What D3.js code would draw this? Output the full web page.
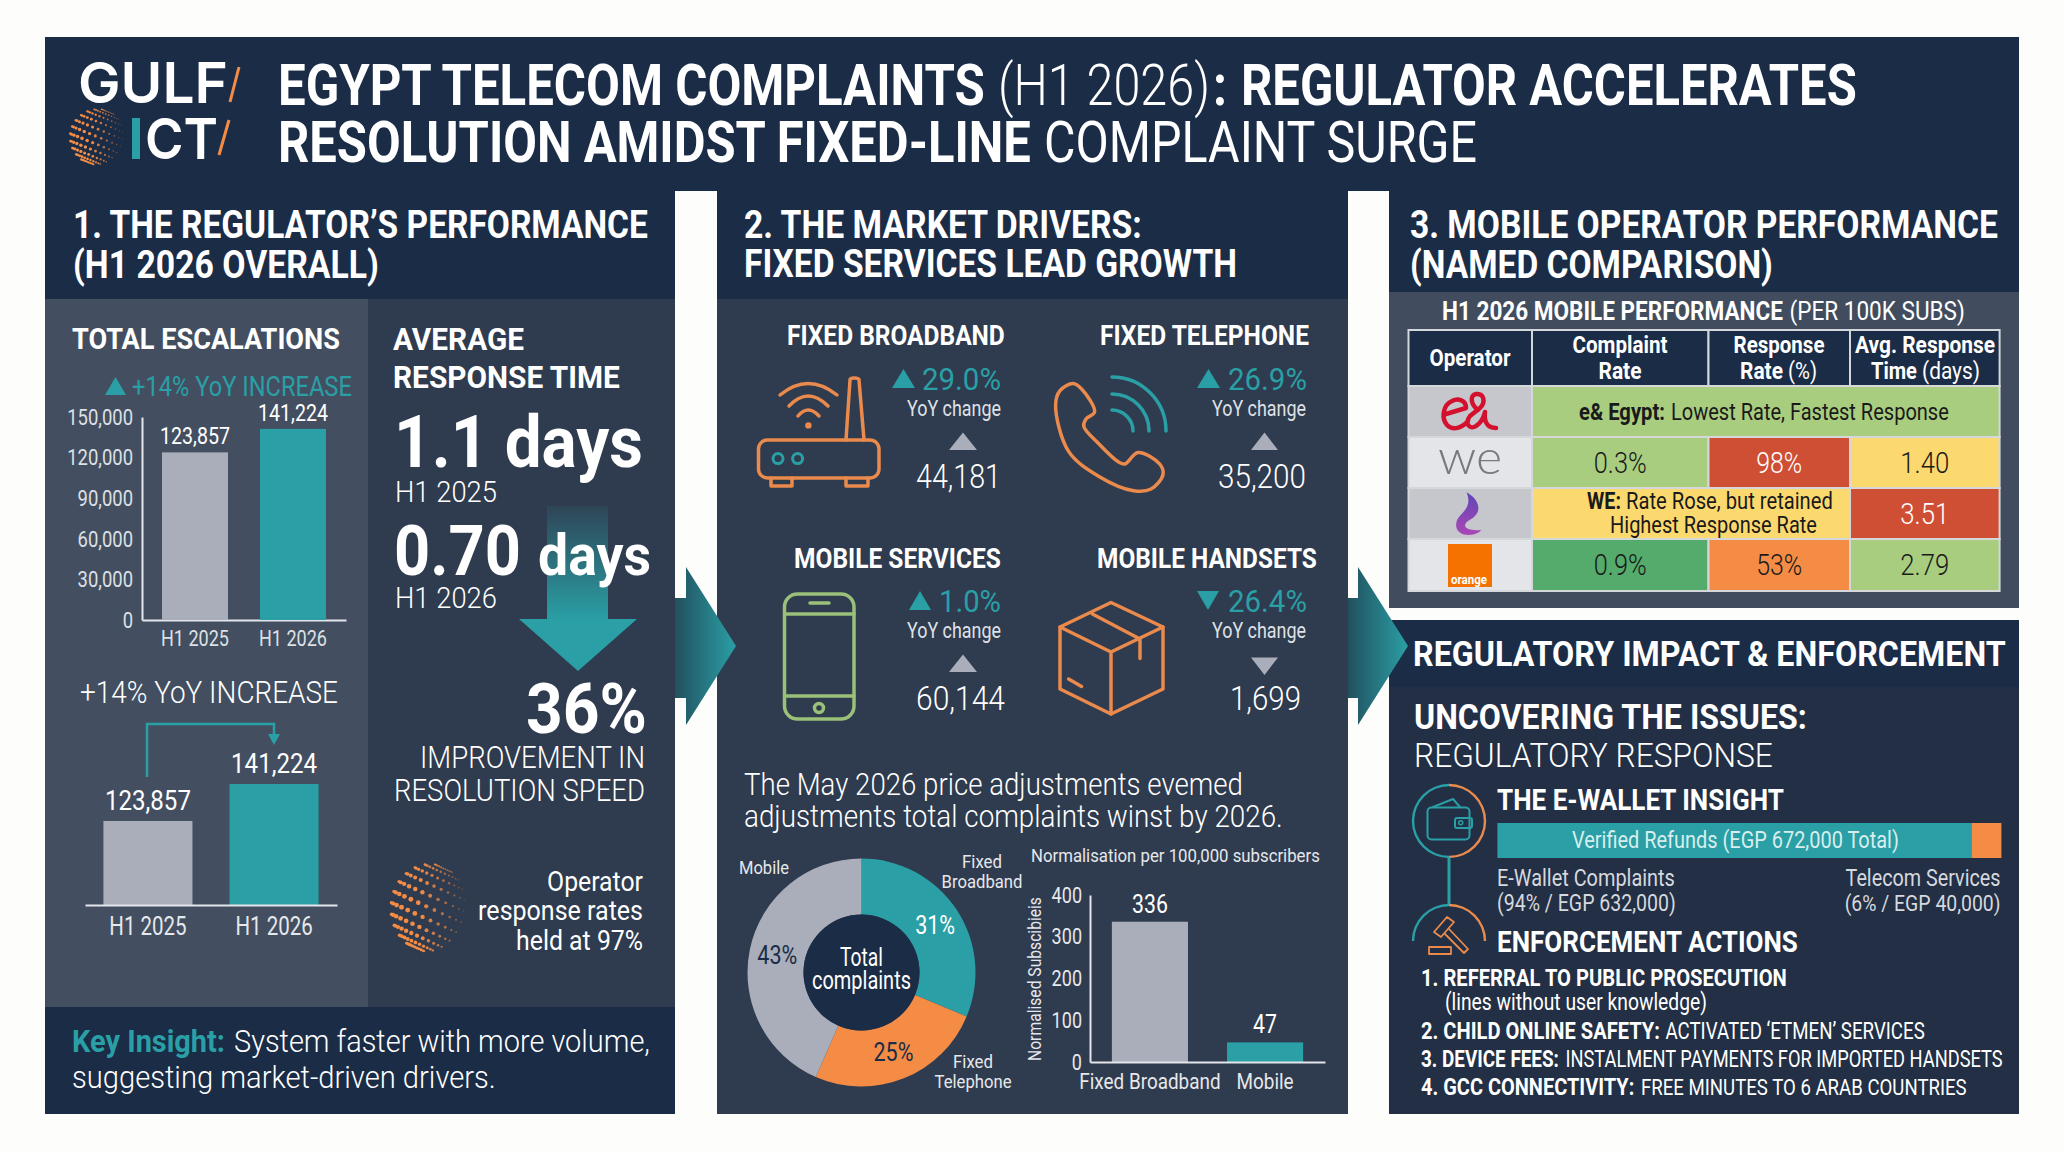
<!DOCTYPE html>
<html>
<head>
<meta charset="utf-8">
<title>Egypt Telecom Complaints H1 2026</title>
<script src="https://cdn.jsdelivr.net/npm/d3@7"></script>
<style>
  html, body { margin: 0; padding: 0; background: #fdfefc; }
  svg { display: block; font-family: Roboto, "Liberation Sans Narrow", sans-serif; }
</style>
</head>
<body>
<svg id="chart" width="2064" height="1152"></svg>
<script>
      // data ====================================================
      var periods       = ["H1 2025", "H1 2026"];
      var escalations   = [123857, 141224];
      var escalationTicks = [0, 30000, 60000, 90000, 120000, 150000];

      var driverNames   = ["FIXED BROADBAND", "FIXED TELEPHONE", "MOBILE SERVICES", "MOBILE HANDSETS"];
      var driverChange  = ["29.0%", "26.9%", "1.0%", "26.4%"];
      var driverRising  = [true, true, true, false];
      var driverCounts  = ["44,181", "35,200", "60,144", "1,699"];

      var shareNames    = ["Fixed Broadband", "Fixed Telephone", "Mobile"];
      var shareValues   = [31, 25, 43];

      var normalNames   = ["Fixed Broadband", "Mobile"];
      var normalValues  = [336, 47];
      var normalTicks   = [0, 100, 200, 300, 400];

      var refundNames   = ["E-Wallet Complaints", "Telecom Services"];
      var refundValues  = [632000, 40000];

      var tableRowA     = ["0.3%", "98%", "1.40"];
      var tableRowB     = ["3.51"];
      var tableRowC     = ["0.9%", "53%", "2.79"];

      // colours
      var navy = "#1b2c47", slate = "#2f3b4e", slateLight = "#434f61", bottomBlue = "#222f45";
      var teal = "#2a9fa5", orange = "#f48c45", grey = "#a9aeba", green = "#a9cd7f";
      var yellow = "#fcd96f", red = "#cf4f35", darkGreen = "#54ab6b", lineCol = "#e3e6ea";

      var svg = d3.select("#chart");
      var squeeze = 0.82;

      // text helper, Roboto is squeezed to the width
      function label(g, str, x, y, size, o) {
        o = o || {};
        var weight = o.weight || 400;
        if (weight == 300 && size <= 27) weight = 400;
        var t = g.append("text")
          .attr("font-size", size).attr("font-weight", weight)
          .attr("fill", o.fill || "#ffffff").attr("text-anchor", o.anchor || "start")
          .text(str);
        if (o.family) t.attr("font-family", o.family);
        var sx = o.width ? o.width / t.node().getComputedTextLength() : squeeze;
        t.attr("transform", "translate(" + x + "," + y + ") scale(" + sx + ",1)");
        return t;
      }
      function rect(g, x1, y1, x2, y2, fill) {
        return g.append("rect").attr("x", x1).attr("y", y1).attr("width", x2 - x1).attr("height", y2 - y1).attr("fill", fill);
      }
      function tri(g, x1, x2, y1, y2, up, fill) {
        var xm = (x1 + x2) / 2;
        var pts = up ? [[x1, y2], [x2, y2], [xm, y1]] : [[x1, y1], [x2, y1], [xm, y2]];
        return g.append("polygon").attr("points", pts.join(" ")).attr("fill", fill);
      }
      function squeezeAxis(g, size, fill, sq) {
        sq = sq || squeeze;
        g.selectAll("text").attr("font-size", size).attr("font-family", "Roboto").attr("fill", fill)
          .each(function() {
            var s = d3.select(this);
            s.attr("x", (+s.attr("x") || 0) / sq).attr("transform", "scale(" + sq + ",1)");
          });
      }
      // dotted globe of the logo, tilted grid, dots fade to the right
      function globe(g, cx, cy, rx, ry) {
        var tilt = 22 * Math.PI / 180;
        d3.range(-75, 76, 15).forEach(function(lat) {
          d3.range(-90, 91, 13).forEach(function(lon) {
            var a = (lon - 20) * Math.PI / 180, b = lat * Math.PI / 180;
            if (Math.cos(a) < 0.02) return;
            var px = Math.sin(a) * Math.cos(b), py = Math.sin(b);
            var nx = px * Math.cos(tilt) - py * Math.sin(tilt), ny = px * Math.sin(tilt) + py * Math.cos(tilt);
            var depth = Math.sqrt(Math.max(0, 1 - nx * nx - ny * ny));
            var fade = (1 - nx) / 2;
            g.append("circle")
              .attr("cx", cx + rx * nx).attr("cy", cy + ry * ny)
              .attr("r", (0.5 + 1.5 * fade) * (0.5 + 0.5 * depth) * (rx / 24))
              .attr("fill", orange).attr("opacity", Math.min(1, 0.25 + 1.2 * fade));
          });
        });
      }

      // gradients
      var defs = svg.append("defs");
      function hGrad(id, x1, x2, c1, c2) {
        var gr = defs.append("linearGradient").attr("id", id).attr("gradientUnits", "userSpaceOnUse")
          .attr("x1", x1).attr("x2", x2).attr("y1", 0).attr("y2", 0);
        gr.append("stop").attr("offset", 0).attr("stop-color", c1);
        gr.append("stop").attr("offset", 1).attr("stop-color", c2);
      }
      hGrad("flow1", 675, 736, "#22505f", teal);
      hGrad("flow2", 1348, 1408, "#22505f", teal);
      var dropGrad = defs.append("linearGradient").attr("id", "drop").attr("x1", 0).attr("x2", 0).attr("y1", 0).attr("y2", 1);
      dropGrad.append("stop").attr("offset", 0).attr("stop-color", teal).attr("stop-opacity", 0.1);
      dropGrad.append("stop").attr("offset", 1).attr("stop-color", teal);
      var purple = defs.append("linearGradient").attr("id", "purple").attr("x1", 0).attr("x2", 0).attr("y1", 0).attr("y2", 1);
      purple.append("stop").attr("offset", 0).attr("stop-color", "#5f45b5");
      purple.append("stop").attr("offset", 1).attr("stop-color", "#a948b5");

      // panels ==================================================
      rect(svg, 45, 37, 2019, 191, navy);
      rect(svg, 45, 191, 675, 299, navy);
      rect(svg, 45, 299, 368, 1007, slateLight);
      rect(svg, 368, 299, 675, 1007, slate);
      rect(svg, 45, 1007, 675, 1114, navy);
      rect(svg, 717, 191, 1348, 299, navy);
      rect(svg, 717, 299, 1348, 1114, slate);
      rect(svg, 1389, 191, 2019, 292, navy);
      rect(svg, 1389, 292, 2019, 608, "#414d5e");
      rect(svg, 1389, 620, 2019, 687, navy);
      rect(svg, 1389, 687, 2019, 1114, bottomBlue);

      // header ==================================================
      var head = svg.append("g");
      label(head, "GULF", 78, 103, 57, {weight: 600, width: 150, family: "Inter"});
      head.append("line").attr("x1", 230).attr("y1", 102).attr("x2", 239).attr("y2", 67).attr("stroke", orange).attr("stroke-width", 3);
      rect(head, 132, 118, 140, 159, teal);
      label(head, "CT", 145, 159, 57, {weight: 600, width: 73, family: "Inter"});
      head.append("line").attr("x1", 219).attr("y1", 155).attr("x2", 229).attr("y2", 120).attr("stroke", orange).attr("stroke-width", 3);
      globe(head, 98, 137, 28, 28);

      label(head, "EGYPT TELECOM COMPLAINTS", 278, 105, 58, {weight: 700, width: 707});
      label(head, "(H1 2026)", 998, 105, 58, {weight: 300, width: 212});
      label(head, ":", 1213, 105, 58, {weight: 700, width: 14});
      label(head, "REGULATOR ACCELERATES", 1241, 105, 58, {weight: 700, width: 616});
      label(head, "RESOLUTION AMIDST FIXED-LINE", 278, 162, 58, {weight: 700, width: 753});
      label(head, "COMPLAINT SURGE", 1044, 162, 58, {weight: 400, width: 433});

      label(head, "1. THE REGULATOR\u2019S PERFORMANCE", 73, 238, 38, {weight: 700, width: 575});
      label(head, "(H1 2026 OVERALL)", 73, 278, 38, {weight: 700, width: 306});
      label(head, "2. THE MARKET DRIVERS:", 744, 238, 38, {weight: 700, width: 398});
      label(head, "FIXED SERVICES LEAD GROWTH", 744, 277, 38, {weight: 700, width: 493});
      label(head, "3. MOBILE OPERATOR PERFORMANCE", 1410, 238, 38, {weight: 700, width: 588});
      label(head, "(NAMED COMPARISON)", 1410, 278, 38, {weight: 700, width: 363});

      // panel 1: total escalations ==============================
      var p1 = svg.append("g");
      label(p1, "TOTAL ESCALATIONS", 72, 349, 30, {weight: 700, width: 268});
      tri(p1, 105, 126, 377, 395, true, teal);
      label(p1, "+14% YoY INCREASE", 132, 396, 28, {weight: 400, fill: teal, width: 220});

      var xEsc = d3.scaleBand().domain(periods).range([142, 346]).paddingInner(0.3265).paddingOuter(0.204);
      var yEsc = d3.scaleLinear().domain([0, 150000]).range([620, 417]);
      var axEscY = p1.append("g").attr("transform", "translate(142,0)")
        .call(d3.axisLeft(yEsc).tickValues(escalationTicks).tickFormat(d3.format(",")).tickSize(0).tickPadding(9));
      axEscY.select(".domain").attr("stroke", lineCol).attr("stroke-width", 2);
      squeezeAxis(axEscY, 22.5, "#dde0e5");
      var axEscX = p1.append("g").attr("transform", "translate(0,620)")
        .call(d3.axisBottom(xEsc).tickSize(0).tickPadding(10));
      axEscX.select(".domain").attr("stroke", lineCol).attr("stroke-width", 2);
      squeezeAxis(axEscX, 22, "#dde0e5");

      p1.selectAll("rect.esc").data(escalations).enter().append("rect").attr("class", "esc")
        .attr("x", function(d, i) { return xEsc(periods[i]); })
        .attr("y", function(d) { return yEsc(d); })
        .attr("width", xEsc.bandwidth())
        .attr("height", function(d) { return 620 - yEsc(d); })
        .attr("fill", function(d, i) { return i ? teal : grey; });
      escalations.forEach(function(d, i) {
        label(p1, d3.format(",")(d), xEsc(periods[i]) + xEsc.bandwidth() / 2, yEsc(d) - 8, 23, {weight: 300, anchor: "middle", width: 70});
      });

      // second, zoomed comparison (no axis, truncated base as in the picture)
      label(p1, "+14% YoY INCREASE", 80, 703, 32, {weight: 300, width: 258});
      var xEsc2 = d3.scaleBand().domain(periods).range([85, 337]).paddingInner(0.294).paddingOuter(0.146);
      var yEsc2 = d3.scaleLinear().domain([84400, 141224]).range([905, 784]);
      p1.selectAll("rect.esc2").data(escalations).enter().append("rect").attr("class", "esc2")
        .attr("x", function(d, i) { return xEsc2(periods[i]); })
        .attr("y", function(d) { return yEsc2(d); })
        .attr("width", xEsc2.bandwidth())
        .attr("height", function(d) { return 905 - yEsc2(d); })
        .attr("fill", function(d, i) { return i ? teal : grey; });
      var axEsc2 = p1.append("g").attr("transform", "translate(0,905)")
        .call(d3.axisBottom(xEsc2).tickSize(0).tickPadding(12));
      axEsc2.select(".domain").attr("stroke", lineCol).attr("stroke-width", 2);
      squeezeAxis(axEsc2, 25, "#e6e8ec");
      escalations.forEach(function(d, i) {
        label(p1, d3.format(",")(d), xEsc2(periods[i]) + xEsc2.bandwidth() / 2, yEsc2(d) - 11, 27, {weight: 300, anchor: "middle", width: 86});
      });
      p1.append("path").attr("d", "M147,777V724H274V735").attr("fill", "none").attr("stroke", teal).attr("stroke-width", 2.5);
      tri(p1, 268, 280, 734, 745, false, teal);

      // panel 1: response time ==================================
      var p1b = svg.append("g");
      p1b.append("rect").attr("x", 547).attr("y", 506).attr("width", 61).attr("height", 114).attr("fill", "url(#drop)");
      tri(p1b, 519, 637, 619, 671, false, teal);
      label(p1b, "AVERAGE", 393, 350, 32, {weight: 700, width: 131});
      label(p1b, "RESPONSE TIME", 393, 388, 32, {weight: 700, width: 227});
      label(p1b, "1.1 days", 394, 467, 73, {weight: 700, width: 249});
      label(p1b, "H1 2025", 395, 502, 30, {weight: 300, width: 102});
      label(p1b, "0.70", 394, 575, 70, {weight: 700, width: 127});
      label(p1b, "days", 538, 575, 57, {weight: 700, width: 113});
      label(p1b, "H1 2026", 395, 608, 30, {weight: 300, width: 102});
      label(p1b, "36%", 647, 733, 70, {weight: 700, anchor: "end", width: 121});
      label(p1b, "IMPROVEMENT IN", 645, 768, 32, {weight: 300, anchor: "end", width: 225});
      label(p1b, "RESOLUTION SPEED", 645, 801, 32, {weight: 300, anchor: "end", width: 251});
      globe(p1b, 430, 908, 39, 44);
      label(p1b, "Operator", 643, 891, 27, {weight: 300, anchor: "end", width: 96});
      label(p1b, "response rates", 643, 920, 27, {weight: 300, anchor: "end", width: 165});
      label(p1b, "held at 97%", 643, 950, 27, {weight: 300, anchor: "end", width: 127});

      label(p1b, "Key Insight:", 72, 1052, 31, {weight: 700, fill: teal, width: 153});
      label(p1b, "System faster with more volume,", 234, 1052, 31, {weight: 300, width: 416});
      label(p1b, "suggesting market-driven drivers.", 72, 1088, 31, {weight: 300, width: 424});

      // panel 2: drivers ========================================
      var p2 = svg.append("g");
      var nameX   = [[787, 218], [1100, 209], [794, 207], [1097, 220]];
      var triX    = [[892, 915], [1197, 1220], [909, 931], [1197, 1219]];
      var pctX    = [[922, 79], [1228, 79], [939, 62], [1228, 79]];
      var yoyRight = [1001, 1306, 1001, 1306];
      var countRight = [[1001, 85], [1306, 88], [1005, 89], [1301, 71]];
      var smallTri = [[949, 977], [1251, 1278], [949, 977], [1251, 1278]];
      driverNames.forEach(function(d, i) {
        var row = i < 2 ? 0 : 222.5;
        var dy  = i < 2 ? 0 : 222;
        label(p2, d, nameX[i][0], 345 + row, 27, {weight: 700, width: nameX[i][1]});
        tri(p2, triX[i][0], triX[i][1], 369 + dy, 388 + dy, driverRising[i], teal);
        label(p2, driverChange[i], pctX[i][0], 390 + dy, 32, {weight: 400, fill: teal, width: pctX[i][1]});
        label(p2, "YoY change", yoyRight[i], 416 + dy, 22, {weight: 300, fill: "#dfe2e6", anchor: "end", width: 94});
        tri(p2, smallTri[i][0], smallTri[i][1], 432.5 + dy + (driverRising[i] ? 0 : 3), 450 + dy + (driverRising[i] ? 0 : 3), driverRising[i], grey);
        label(p2, driverCounts[i], countRight[i][0], 488 + dy, 33, {weight: 300, anchor: "end", width: countRight[i][1]});
      });

      // icons
      var iconOrange = "#ea8a4c", iconGreen = "#9ac07a";
      function stroked(sel, col, w) { return sel.attr("fill", "none").attr("stroke", col).attr("stroke-width", w || 3.5).attr("stroke-linejoin", "round").attr("stroke-linecap", "round"); }
      // router
      stroked(p2.append("path").attr("d", "M771,478V486H792V478M846,478V486H868V478"), iconOrange);
      stroked(p2.append("path").attr("d", "M846,440L850,380Q850,378 854,378Q859,378 859,380L864,440"), iconOrange);
      stroked(p2.append("rect").attr("x", 758.5).attr("y", 440).attr("width", 120.5).attr("height", 38).attr("rx", 9), iconOrange);
      stroked(p2.append("path").attr("d", "M780,395Q808,372 837,395M789,406Q808,386 828,406M798,416Q808,404 819,416"), iconOrange);
      p2.append("circle").attr("cx", 808.4).attr("cy", 425.4).attr("r", 3.2).attr("fill", iconOrange);
      stroked(p2.append("circle").attr("cx", 778).attr("cy", 458.6).attr("r", 5), teal, 3);
      stroked(p2.append("circle").attr("cx", 797.6).attr("cy", 458.6).attr("r", 5), teal, 3);
      // telephone
      var handset = [[1073, 383.6], [1060, 390.7], [1055.6, 405], [1068.6, 451.4], [1099, 476.4], [1133.6, 490.7], [1151, 489], [1163, 474.6], [1159.7, 464], [1138, 452.5], [1125, 464], [1118.5, 462], [1099, 444], [1083.8, 426.4], [1086, 419], [1094.6, 412], [1081.6, 389]];
      stroked(p2.append("path").attr("d", d3.line().curve(d3.curveCatmullRomClosed.alpha(0.5))(handset)), iconOrange);
      stroked(p2.append("path").attr("d", "M1112,377A54,54 0 0 1 1166,431M1112,394A37,37 0 0 1 1149,431M1112,410A21,21 0 0 1 1133,431"), teal);
      // handset
      stroked(p2.append("rect").attr("x", 784.5).attr("y", 594).attr("width", 69.5).attr("height", 125).attr("rx", 13), iconGreen);
      stroked(p2.append("path").attr("d", "M785,614H854M785,696H854M810,603H829"), iconGreen);
      stroked(p2.append("circle").attr("cx", 819).attr("cy", 708).attr("r", 4.5), iconGreen);
      // parcel
      stroked(p2.append("path").attr("d", "M1111,602.5L1163,627V689L1111,714L1060,689V627Z"), iconOrange);
      stroked(p2.append("path").attr("d", "M1060,627L1111,652L1163,627M1111,652V714M1092.4,614L1140,639V658.6M1068.6,679L1081.6,686.4"), iconOrange);

      label(p2, "The May 2026 price adjustments evemed", 744, 795, 31, {weight: 300, width: 499});
      label(p2, "adjustments total complaints winst by 2026.", 744, 827, 31, {weight: 300, width: 539});

      // donut
      var donut = p2.append("g").attr("transform", "translate(861.5,972.5)");
      var pie = d3.pie().sort(null)(shareValues);
      var arcGen = d3.arc().innerRadius(58).outerRadius(114);
      var shareCol = [teal, orange, grey];
      donut.selectAll("path").data(pie).enter().append("path")
        .attr("d", arcGen).attr("fill", function(d, i) { return shareCol[i]; });
      donut.append("circle").attr("r", 58).attr("fill", navy);
      pie.forEach(function(d, i) {
        var c = arcGen.centroid(d);
        label(donut, shareValues[i] + "%", c[0] + (i == 0 ? 2 : 0), c[1] + 9, 26, {weight: 300, anchor: "middle", width: 40, fill: i == 0 ? "#ffffff" : navy});
      });
      label(donut, "Total", 0, -6.5, 25, {weight: 300, anchor: "middle", width: 43});
      label(donut, "complaints", 0, 16.5, 25, {weight: 300, anchor: "middle", width: 99});
      label(p2, "Mobile", 739, 874, 19, {weight: 300, fill: "#e6e8ec", width: 50});
      label(p2, "Fixed", 982, 868, 19, {weight: 300, fill: "#e6e8ec", anchor: "middle", width: 40});
      label(p2, "Broadband", 982, 888, 19, {weight: 300, fill: "#e6e8ec", anchor: "middle", width: 81});
      label(p2, "Fixed", 973, 1068, 19, {weight: 300, fill: "#e6e8ec", anchor: "middle", width: 40});
      label(p2, "Telephone", 973, 1088, 19, {weight: 300, fill: "#e6e8ec", anchor: "middle", width: 77});

      // normalised bars
      label(p2, "Normalisation per 100,000 subscribers", 1031, 862, 18, {weight: 300, fill: "#e6e8ec", width: 289});
      var xNorm = d3.scaleBand().domain(normalNames).range([1090, 1325]).paddingInner(0.339).paddingOuter(0.19);
      var yNorm = d3.scaleLinear().domain([0, 400]).range([1062, 895]);
      p2.selectAll("rect.norm").data(normalValues).enter().append("rect").attr("class", "norm")
        .attr("x", function(d, i) { return xNorm(normalNames[i]); })
        .attr("y", function(d) { return yNorm(d); })
        .attr("width", xNorm.bandwidth())
        .attr("height", function(d) { return 1062 - yNorm(d); })
        .attr("fill", function(d, i) { return i ? teal : grey; });
      var axNormY = p2.append("g").attr("transform", "translate(1090,0)")
        .call(d3.axisLeft(yNorm).tickValues(normalTicks).tickSize(0).tickPadding(8));
      axNormY.select(".domain").attr("stroke", lineCol).attr("stroke-width", 2);
      squeezeAxis(axNormY, 22, "#e6e8ec");
      var axNormX = p2.append("g").attr("transform", "translate(0,1062)")
        .call(d3.axisBottom(xNorm).tickSize(0).tickPadding(11));
      axNormX.select(".domain").attr("stroke", lineCol).attr("stroke-width", 2);
      squeezeAxis(axNormX, 22.5, "#e6e8ec", 0.84);
      normalValues.forEach(function(d, i) {
        label(p2, d, xNorm(normalNames[i]) + xNorm.bandwidth() / 2, yNorm(d) - 9, 26, {weight: 300, anchor: "middle"});
      });
      var vTitle = p2.append("text").attr("font-size", 19).attr("font-weight", 400).attr("fill", "#e6e8ec").text("Normalised Subscibieis");
      vTitle.attr("transform", "translate(1041,1061) rotate(-90) scale(" + (164 / vTitle.node().getComputedTextLength()) + ",1)");

      // panel 3: table ==========================================
      var p3 = svg.append("g");
      label(p3, "H1 2026 MOBILE PERFORMANCE", 1442, 320, 26, {weight: 700, width: 341});
      label(p3, "(PER 100K SUBS)", 1789.5, 320, 26, {weight: 300, width: 175.5});

      var colX = [1408.5, 1532, 1708.5, 1850, 1999.6];
      var rowY = [330, 386, 437, 488, 539, 591];
      var mid = function(i) { return (colX[i] + colX[i + 1]) / 2; };
      function cell(c1, c2, r, fill) {
        return rect(p3, colX[c1], rowY[r], colX[c2], rowY[r + 1], fill).attr("stroke", "#d4d8db").attr("stroke-width", 2);
      }
      [0, 1, 2, 3].forEach(function(c) { cell(c, c + 1, 0, navy); });
      cell(0, 1, 1, "#c5c7cc"); cell(1, 4, 1, green);
      cell(0, 1, 2, "#e3e5e8"); cell(1, 2, 2, green); cell(2, 3, 2, red); cell(3, 4, 2, yellow);
      cell(0, 1, 3, "#c5c7cc"); cell(1, 3, 3, yellow); cell(3, 4, 3, red);
      cell(0, 1, 4, "#e3e5e8"); cell(1, 2, 4, darkGreen); cell(2, 3, 4, orange); cell(3, 4, 4, green);

      label(p3, "Operator", 1470, 366, 24, {weight: 700, anchor: "middle", width: 81});
      label(p3, "Complaint", 1620, 353, 24, {weight: 700, anchor: "middle", width: 95});
      label(p3, "Rate", 1620, 379, 24, {weight: 700, anchor: "middle", width: 43});
      label(p3, "Response", 1779, 353, 24, {weight: 700, anchor: "middle", width: 91});
      label(p3, "Rate", 1740, 379, 24, {weight: 700, width: 43});
      label(p3, "(%)", 1788, 379, 24, {weight: 300, width: 29});
      label(p3, "Avg. Response", 1925, 353, 24, {weight: 700, anchor: "middle", width: 140});
      label(p3, "Time", 1871, 379, 24, {weight: 700, width: 46});
      label(p3, "(days)", 1922, 379, 24, {weight: 300, width: 58});

      var ink = "#1a1a1a";
      var pctWidth = [53, 46, 49];
      label(p3, "e& Egypt:", 1579, 420, 23, {weight: 700, fill: ink, width: 86});
      label(p3, "Lowest Rate, Fastest Response", 1671, 420, 23, {weight: 300, fill: ink, width: 278});
      tableRowA.forEach(function(d, i) {
        label(p3, d, mid(i + 1), 473, 29, {weight: 300, anchor: "middle", width: pctWidth[i], fill: i == 1 ? "#ffffff" : ink});
      });
      label(p3, "WE:", 1587, 509, 23, {weight: 700, fill: ink, width: 34});
      label(p3, "Rate Rose, but retained", 1626, 509, 23, {weight: 300, fill: ink, width: 207});
      label(p3, "Highest Response Rate", 1610, 533, 23, {weight: 300, fill: ink, width: 207});
      label(p3, tableRowB[0], mid(3), 524, 29, {weight: 300, anchor: "middle", width: 49});
      tableRowC.forEach(function(d, i) {
        label(p3, d, mid(i + 1), 575, 29, {weight: 300, anchor: "middle", width: pctWidth[i], fill: ink});
      });

      // operator logos
      stroked(p3.append("path").attr("d", "M1446,414L1466,408C1466,400 1458,398 1452,401C1443,405 1441,418 1447,425C1453,431 1462,428 1468,421M1478,410C1470,404 1470,395 1476,394C1484,393 1486,402 1480,408L1470,416C1464,424 1470,430 1476,426C1481,423 1484,416 1485,412C1484,420 1486,428 1496,428"), "#d3112e", 4.5);
      label(p3, "we", 1438, 474, 48, {weight: 300, fill: "#77797c", width: 64, family: "Lato"});
      p3.append("path").attr("fill", "url(#purple)")
        .attr("d", "M1466.5,492.3C1480.6,500 1482.8,513.3 1469.6,520C1460.7,525 1465,531.7 1481.5,530C1474,538.3 1454,536.7 1456.3,523.3C1457,513.3 1474,510 1466.5,492.3Z");
      rect(p3, 1448, 544, 1492, 587, "#f57200");
      label(p3, "orange", 1451, 584, 12, {weight: 700, width: 36});

      // regulatory =============================================
      var p4 = svg.append("g");
      label(p4, "REGULATORY IMPACT & ENFORCEMENT", 1413, 666, 35, {weight: 700, width: 593});
      label(p4, "UNCOVERING THE ISSUES:", 1414, 728.5, 35, {weight: 700, width: 393});
      label(p4, "REGULATORY RESPONSE", 1414, 766.5, 34, {weight: 300, width: 359});

      // wallet icon and linked rings
      var ring = d3.arc().innerRadius(34.8).outerRadius(37.2);
      p4.append("path").attr("transform", "translate(1449,821)").attr("fill", teal)
        .attr("d", ring({startAngle: Math.PI, endAngle: 2 * Math.PI}));
      p4.append("path").attr("transform", "translate(1449,821)").attr("fill", iconOrange)
        .attr("d", ring({startAngle: 0, endAngle: Math.PI}));
      p4.append("line").attr("x1", 1449).attr("x2", 1449).attr("y1", 857).attr("y2", 906).attr("stroke", teal).attr("stroke-width", 3);
      p4.append("path").attr("transform", "translate(1449,941)").attr("fill", teal)
        .attr("d", ring({startAngle: -Math.PI / 2, endAngle: 0}));
      p4.append("path").attr("transform", "translate(1449,941)").attr("fill", iconOrange)
        .attr("d", ring({startAngle: 0, endAngle: Math.PI / 2}));
      stroked(p4.append("rect").attr("x", 1427.5).attr("y", 807.5).attr("width", 42).attr("height", 32).attr("rx", 4), teal, 2);
      stroked(p4.append("path").attr("d", "M1433,807L1453,799L1460,807"), teal, 2);
      stroked(p4.append("rect").attr("x", 1455).attr("y", 818).attr("width", 17).attr("height", 10).attr("rx", 2).attr("fill", bottomBlue), teal, 2);
      stroked(p4.append("circle").attr("cx", 1460.7).attr("cy", 822.7).attr("r", 2), teal, 1.5);
      // gavel
      stroked(p4.append("path").attr("d", "M1447,917L1454,922L1441,937L1434,932ZM1449,929L1468,949L1464,953L1445,934M1429,947V954H1451V947ZM1432,947H1448"), iconOrange, 1.8);

      label(p4, "THE E-WALLET INSIGHT", 1497, 810, 29, {weight: 700, width: 287});
      var xRefund = d3.scaleLinear().domain([0, d3.sum(refundValues)]).range([1497.4, 2001.4]);
      var refundStart = 0;
      refundValues.forEach(function(d, i) {
        rect(p4, xRefund(refundStart), 823, xRefund(refundStart + d), 858, i ? orange : teal);
        refundStart += d;
      });
      label(p4, "Verified Refunds (EGP 672,000 Total)", 1572, 848, 23, {weight: 300, fill: "#d8eeee", width: 327});
      label(p4, refundNames[0], 1497, 886, 23, {weight: 300, fill: "#d6d9de", width: 178});
      label(p4, "(94% / EGP 632,000)", 1497, 910.5, 23, {weight: 300, fill: "#d6d9de", width: 179});
      label(p4, refundNames[1], 2000.5, 886, 23, {weight: 300, fill: "#d6d9de", anchor: "end", width: 155});
      label(p4, "(6% / EGP 40,000)", 2000.5, 910.5, 23, {weight: 300, fill: "#d6d9de", anchor: "end", width: 156});

      label(p4, "ENFORCEMENT ACTIONS", 1497, 952, 29, {weight: 700, width: 301});
      label(p4, "1. REFERRAL TO PUBLIC PROSECUTION", 1421, 985.5, 23, {weight: 700, width: 366});
      label(p4, "(lines without user knowledge)", 1445, 1010, 23, {weight: 300, width: 262});
      label(p4, "2. CHILD ONLINE SAFETY:", 1421, 1039, 23, {weight: 700, width: 239});
      label(p4, "ACTIVATED \u2018ETMEN\u2019 SERVICES", 1665.5, 1039, 23, {weight: 300, width: 259.5});
      label(p4, "3. DEVICE FEES:", 1421, 1067, 23, {weight: 700, width: 138});
      label(p4, "INSTALMENT PAYMENTS FOR IMPORTED HANDSETS", 1565.5, 1067, 23, {weight: 300, width: 437.5});
      label(p4, "4. GCC CONNECTIVITY:", 1421, 1095, 23, {weight: 700, width: 213.5});
      label(p4, "FREE MINUTES TO 6 ARAB COUNTRIES", 1641, 1095, 23, {weight: 300, width: 326});

      // flow arrows between the panels ==========================
      svg.append("polygon").attr("fill", "url(#flow1)")
        .attr("points", "675,598 686,598 686,567 736,646 686,725 686,698 675,698");
      svg.append("polygon").attr("fill", "url(#flow2)")
        .attr("points", "1348,598 1358,598 1358,567 1408,646 1358,725 1358,698 1348,698");
</script>
</body>
</html>
